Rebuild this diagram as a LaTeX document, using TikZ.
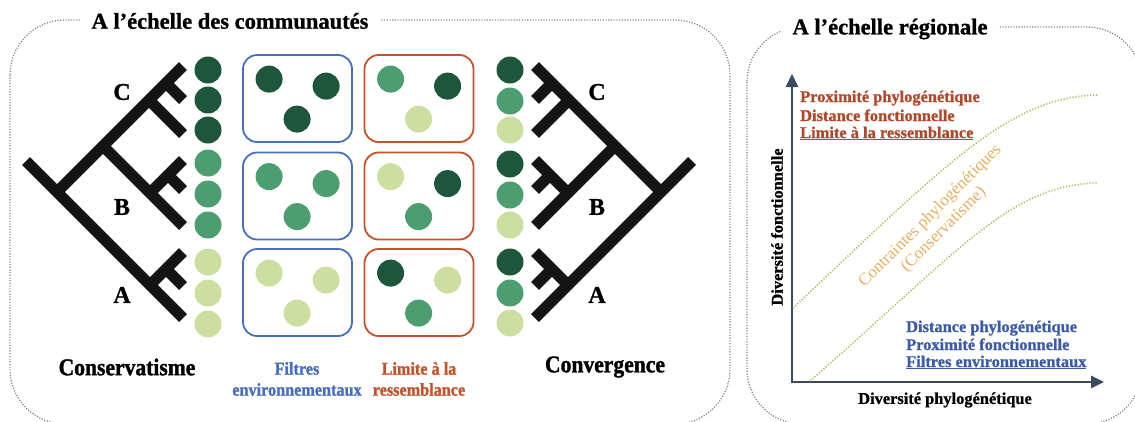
\documentclass[tikz,border=0pt]{standalone}
\usepackage{fontspec}
\setmainfont{Liberation Serif}
\newfontfamily\condfont[FakeStretch=0.9,FakeBold=1.3]{Liberation Serif}
\newfontfamily\heavyfont[FakeBold=1.0]{Liberation Serif}
\usetikzlibrary{arrows.meta,calc}

\definecolor{gdark}{RGB}{30,86,60}
\definecolor{gmed}{RGB}{76,158,112}
\definecolor{glight}{RGB}{204,222,160}
\definecolor{fblue}{RGB}{72,110,192}
\definecolor{lred}{RGB}{196,82,42}
\definecolor{tred}{RGB}{178,70,40}
\definecolor{tblue}{RGB}{60,90,170}
\definecolor{axisc}{RGB}{60,74,94}
\definecolor{curvec}{RGB}{186,186,100}
\definecolor{constc}{RGB}{228,176,96}
\definecolor{borderc}{RGB}{130,130,130}
\definecolor{treec}{RGB}{20,20,20}

\tikzset{
 panelbox/.style={draw=borderc, line width=1.3pt, dash pattern=on 1.1pt off 1.6pt, rounded corners=55pt},
 paneltitle/.style={fill=white, inner xsep=12pt, inner ysep=5pt, font=\heavyfont\bfseries\fontsize{22.5}{27}\selectfont},
 treebranch/.style={draw=treec, line width=11pt, line cap=butt},
 sppdot/.style={circle, minimum size=27pt, inner sep=0pt, draw=none},
 cladelabel/.style={font=\heavyfont\bfseries\fontsize{24}{28}\selectfont},
 filtbox/.style={draw=fblue, line width=1.8pt, rounded corners=14pt, minimum width=109pt, minimum height=87pt, inner sep=0pt},
 limbox/.style={filtbox, draw=lred},
 biglabel/.style={font=\condfont\bfseries\fontsize{24}{28}\selectfont},
 smalllabel/.style={font=\condfont\bfseries\fontsize{18}{21}\selectfont, align=center},
 axisline/.style={draw=axisc, line width=2.6pt, {Triangle[length=13pt,width=12pt]}-{Triangle[length=13pt,width=12pt]}},
 axlabel/.style={font=\heavyfont\bfseries\fontsize{16.4}{19}\selectfont},
 chartred/.style={font=\heavyfont\bfseries\fontsize{16.4}{19}\selectfont, text=tred, anchor=base west, inner sep=0pt},
 chartblue/.style={chartred, text=tblue},
 dotcurve/.style={draw=curvec, line width=1.7pt, dash pattern=on 1.2pt off 1.8pt},
 constraint/.style={text=constc, font=\fontsize{17}{19}\selectfont, align=center, rotate=45},
}

\newcommand\dendro[1]{%
  \coordinate (#1stub) at (26,161);
  \coordinate (#1root) at (57,192);
  \coordinate (#1cb) at (103,146);
  \coordinate (#1cn) at (149,100);
  \coordinate (#1cs) at (166,83);
  \coordinate (#1bn) at (150,193);
  \coordinate (#1bs) at (168,175);
  \coordinate (#1an) at (150,285);
  \coordinate (#1as) at (166,269);
  \coordinate (#1t1) at (183,66);
  \coordinate (#1t2) at (183,100);
  \coordinate (#1t3) at (183,134);
  \coordinate (#1t4) at (183,160);
  \coordinate (#1t5) at (183,190);
  \coordinate (#1t6) at (183,226);
  \coordinate (#1t7) at (183,252);
  \coordinate (#1t8) at (183,286);
  \coordinate (#1t9) at (183,318);
  \draw[treebranch] (#1stub) -- (#1t9);
  \draw[treebranch] (#1root) -- (#1t1);
  \draw[treebranch] (#1cb) -- (#1t6);
  \draw[treebranch] (#1cn) -- (#1t3);
  \draw[treebranch] (#1cs) -- (#1t2);
  \draw[treebranch] (#1bn) -- (#1t4);
  \draw[treebranch] (#1bs) -- (#1t5);
  \draw[treebranch] (#1an) -- (#1t7);
  \draw[treebranch] (#1as) -- (#1t8);
}

\newcommand\commbox[7]{%
  \node[#2] (#1) at (#3,#4) {};
  \node[sppdot, fill=#5] (#1a) at ($(#1.north west)+(27,25)$) {};
  \node[sppdot, fill=#6] (#1b) at ($(#1.north west)+(84,32)$) {};
  \node[sppdot, fill=#7] (#1c) at ($(#1.north west)+(55,65)$) {};
}

\begin{document}
\begin{tikzpicture}[x=1pt,y=-1pt]
\useasboundingbox (0,0) rectangle (1135,421);
\clip (0,0) rectangle (1135,421);

% panels
\draw[panelbox] (10,20) rectangle (730,424);
\draw[panelbox] (747,27) rectangle (1142,424);
\node[paneltitle] (titleL) at (230,21) {A l’échelle des communautés};
\node[paneltitle] (titleR) at (890,29) {A l’échelle régionale};

% trees
\dendro{L}
\begin{scope}[shift={(718,0)},xscale=-1]
\dendro{R}
\end{scope}

\node[cladelabel] (lC) at (122,92) {C};
\node[cladelabel] (lB) at (122,207) {B};
\node[cladelabel] (lA) at (122,295) {A};
\node[cladelabel] (rC) at (597,92) {C};
\node[cladelabel] (rB) at (597,207) {B};
\node[cladelabel] (rA) at (597,295) {A};

% species columns
\foreach \y/\c [count=\i] in {70/gdark,100/gdark,130/gdark,163/gmed,194/gmed,225/gmed,262/glight,293/glight,324/glight}
  \node[sppdot, fill=\c] (L\i) at (208,\y) {};
\foreach \y/\c [count=\i] in {70/gdark,101/gmed,130/glight,164/gdark,195/gmed,225/glight,262/gdark,293/gmed,323/glight}
  \node[sppdot, fill=\c] (R\i) at (510,\y) {};

% community boxes
\commbox{fA}{filtbox}{297.5}{98.5}{gdark}{gdark}{gdark}
\commbox{fB}{filtbox}{297.5}{196}{gmed}{gmed}{gmed}
\commbox{fC}{filtbox}{297.5}{292.5}{glight}{glight}{glight}
\commbox{mA}{limbox}{419}{98.5}{gmed}{gdark}{glight}
\commbox{mB}{limbox}{419}{196}{glight}{gdark}{gmed}
\commbox{mC}{limbox}{419}{292.5}{gdark}{glight}{gmed}

% bottom labels
\node[biglabel] (cons) at (127,367) {Conservatisme};
\node[biglabel] (conv) at (605,367) {Convergence};
\node[smalllabel, text=fblue] (filt) at (297,379) {Filtres\\environnementaux};
\node[smalllabel, text=lred] (lim) at (419,379) {Limite à la\\ressemblance};

% chart
\coordinate (O) at (792,382);
\coordinate (ytip) at (792,74);
\coordinate (xtip) at (1104,382);
\draw[axisline] (ytip) -- (O) -- (xtip);
\node[axlabel, rotate=90] (ylab) at (777,227) {Diversité fonctionnelle};
\node[axlabel] (xlab) at (945,400) {Diversité phylogénétique};

\coordinate (u0) at (793,308);
\coordinate (u1) at (1098,95);
\coordinate (w0) at (810,381);
\coordinate (w1) at (1097,183);
\draw[dotcurve] (u0) .. controls (950,160) and (1010,97) .. (u1);
\draw[dotcurve] (w0) .. controls (960,250) and (1010,185) .. (w1);
\node[constraint] (cons2) at (937,223) {Contraintes phylogénétiques\\(Conservatisme)};

\node[chartred] (r1) at (800,102) {Proximité phylogénétique};
\node[chartred] (r2) at (800,121) {Distance fonctionnelle};
\node[chartred] (r3) at (800,138) {\underline{Limite à la ressemblance}};
\node[chartblue] (b1) at (906,332) {Distance phylogénétique};
\node[chartblue] (b2) at (906,350) {Proximité fonctionnelle};
\node[chartblue] (b3) at (906,367) {\underline{Filtres environnementaux}};
\end{tikzpicture}
\end{document}
